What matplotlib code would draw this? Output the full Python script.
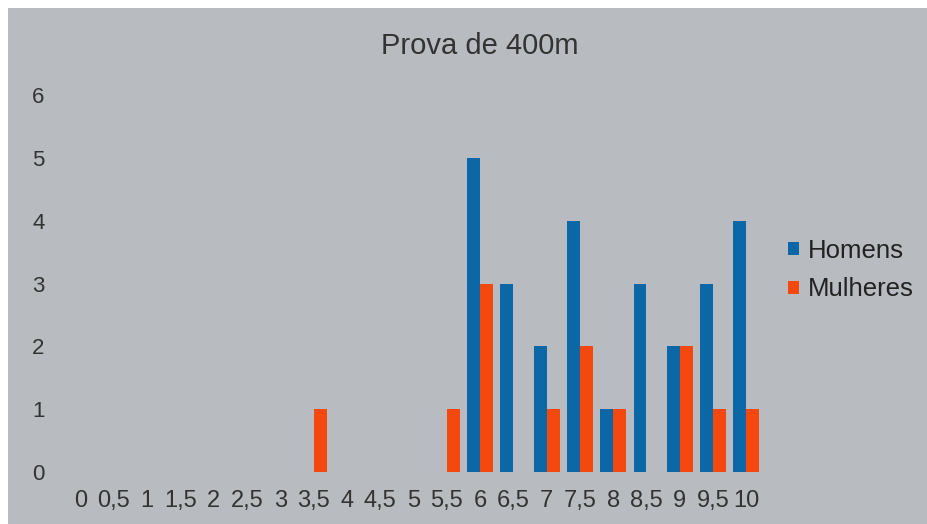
import matplotlib
matplotlib.use("Agg")
import matplotlib.pyplot as plt
import numpy as np
from matplotlib.patches import Rectangle

categories = ["0", "0,5", "1", "1,5", "2", "2,5", "3", "3,5", "4", "4,5", "5",
              "5,5", "6", "6,5", "7", "7,5", "8", "8,5", "9", "9,5", "10"]
homens = [0, 0, 0, 0, 0, 0, 0, 0, 0, 0, 0, 0, 5, 3, 2, 4, 1, 3, 2, 3, 4]
mulheres = [0, 0, 0, 0, 0, 0, 0, 1, 0, 0, 0, 1, 3, 0, 1, 2, 1, 0, 2, 1, 1]
yticks = [0, 1, 2, 3, 4, 5, 6]

plt.rcParams['font.family'] = ['Liberation Sans', 'DejaVu Sans']

W, H = 928, 524
fig = plt.figure(figsize=(W / 100, H / 100), dpi=100, facecolor='white')
bg = '#b8bbbf'
fig.patches.append(Rectangle((8 / W, 0), 1, 1 - 8 / H, transform=fig.transFigure,
                             facecolor=bg, edgecolor='none', zorder=-5))

ax = fig.add_axes([64 / W, 52 / H, (763 - 64) / W, (472 - 95) / H])
ax.set_facecolor('none')
x = np.arange(len(categories))
w = 0.39
blue = '#0c67a6'
orange = '#f5480f'
ax.bar(x - w / 2, homens, width=w, color=blue, label='Homens')
ax.bar(x + w / 2, mulheres, width=w, color=orange, label='Mulheres')

ax.set_xlim(-0.5, len(categories) - 0.5)
ax.set_ylim(0, 6)
ax.set_yticks(yticks)
ax.set_yticklabels([str(t) for t in yticks], fontsize=16, color='#333333')
ax.set_xticks(x)
ax.set_xticklabels(categories, fontsize=17, color='#333333')
ax.tick_params(axis='y', length=0, pad=14)
ax.tick_params(axis='x', length=0, pad=13)
for s in ax.spines.values():
    s.set_visible(False)

fig.text(480 / W, 1 - 46 / H, 'Prova de 400m', ha='center', va='center',
         fontsize=21, color='#333333')

leg = fig.legend(loc='center left', bbox_to_anchor=(788 / W, 1 - 270 / H),
                 frameon=False, fontsize=18.5, handlelength=0.42, handleheight=0.42,
                 handletextpad=0.35, labelspacing=0.58, borderpad=0, borderaxespad=0)
for t in leg.get_texts():
    t.set_color('#222222')

fig.savefig('out.png', dpi=100, facecolor='white')
